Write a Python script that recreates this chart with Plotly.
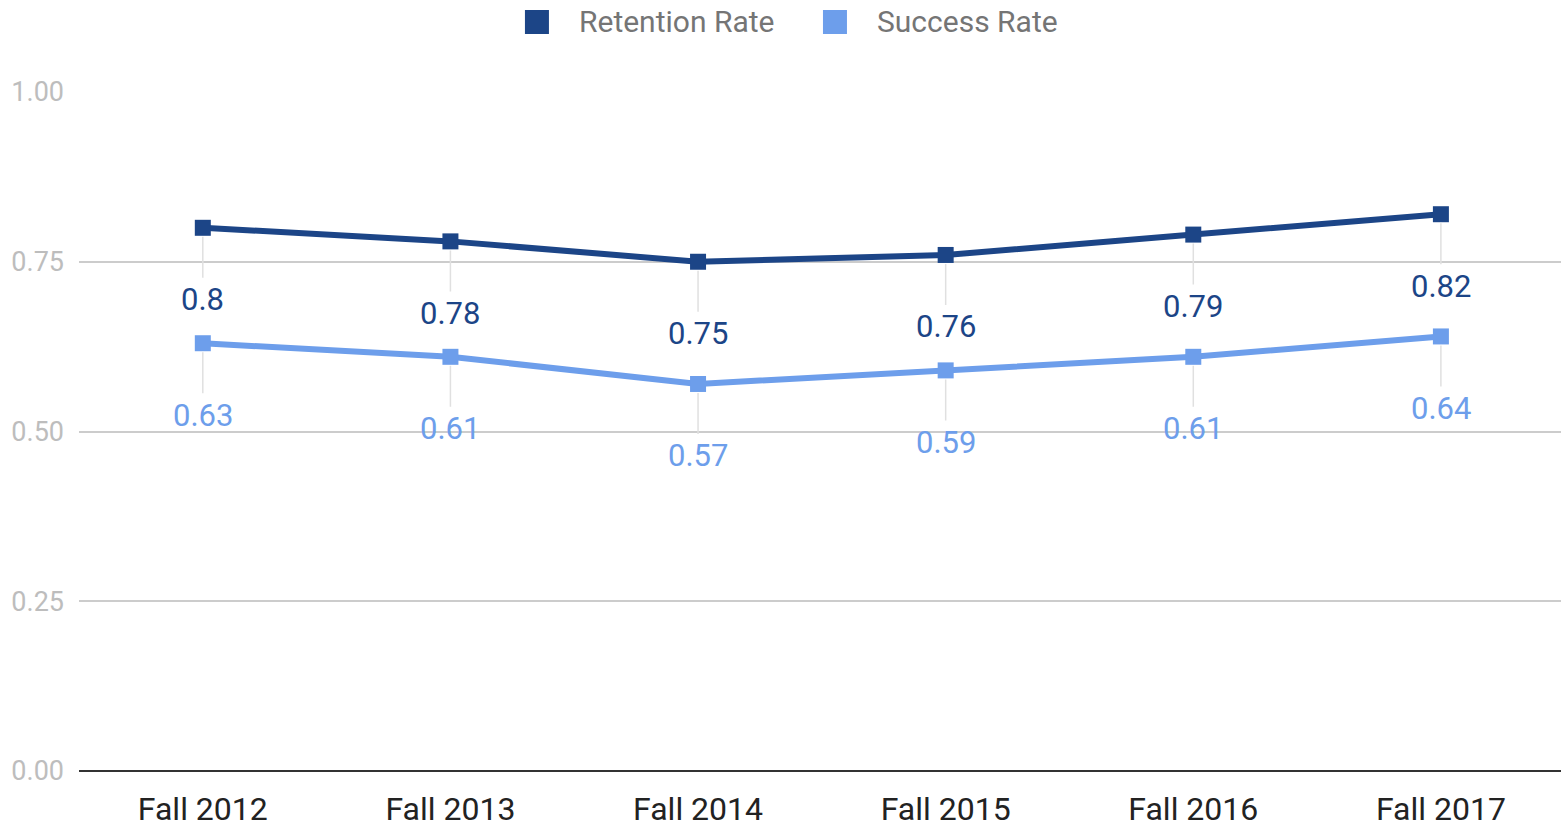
import plotly.graph_objects as go

categories = ["Fall 2012", "Fall 2013", "Fall 2014", "Fall 2015", "Fall 2016", "Fall 2017"]
retention = [0.80, 0.78, 0.75, 0.76, 0.79, 0.82]
success = [0.63, 0.61, 0.57, 0.59, 0.61, 0.64]
retention_labels = ["0.8", "0.78", "0.75", "0.76", "0.79", "0.82"]
success_labels = ["0.63", "0.61", "0.57", "0.59", "0.61", "0.64"]
y_ticks = [0, 0.25, 0.5, 0.75, 1.0]
y_tick_text = ["0.00", "0.25", "0.50", "0.75", "1.00"]

DARK = "#1c4587"
LIGHT = "#6d9eeb"
FONT = "Roboto"

fig = go.Figure()
series = [("Retention Rate", retention, retention_labels, DARK),
          ("Success Rate", success, success_labels, LIGHT)]

annotations = []
for name, vals, labels, color in series:
    fig.add_trace(go.Scatter(
        x=categories, y=vals, mode="lines+markers", name=name,
        line=dict(color=color, width=6),
        marker=dict(symbol="square", size=16, color=color),
        showlegend=False, hoverinfo="skip"))
    for c, v, t in zip(categories, vals, labels):
        annotations.append(dict(
            x=c, y=v, xref="x", yref="y", text=t,
            showarrow=True, arrowhead=0, arrowwidth=1.5, arrowcolor="#e0e0e0",
            ax=0, ay=72, standoff=9, startstandoff=2,
            font=dict(family=FONT, size=31, color=color)))

# manual legend (layout only)
legend_pos = [(0.3090, 0.3360), (0.5101, 0.5371)]
legend_y = 1.1031
shapes = []
for (name, _, _, color), (sx, tx) in zip(series, legend_pos):
    shapes.append(dict(type="rect", xref="paper", yref="paper",
                       xsizemode="pixel", ysizemode="pixel",
                       xanchor=sx, yanchor=legend_y,
                       x0=-12, x1=12, y0=-12, y1=12,
                       fillcolor=color, line=dict(width=0)))
    annotations.append(dict(x=tx, y=legend_y, xref="paper", yref="paper",
                            text=name, showarrow=False, xanchor="left",
                            yanchor="middle",
                            font=dict(family=FONT, size=30, color="#757575")))

fig.update_layout(
    width=1561, height=826,
    margin=dict(l=79, r=0, t=92, b=55),
    paper_bgcolor="white", plot_bgcolor="white",
    font=dict(family=FONT),
    showlegend=False,
    annotations=annotations,
    shapes=shapes,
    xaxis=dict(type="category", range=[-0.5, 5.485], showgrid=False,
               showline=False, zeroline=False, automargin=False,
               tickfont=dict(family=FONT, size=32, color="#222222"),
               ticklabelstandoff=16),
    yaxis=dict(range=[0, 1], tickvals=y_ticks, ticktext=y_tick_text,
               showgrid=True, gridcolor="#cccccc", gridwidth=2,
               zeroline=True, zerolinecolor="#333333", zerolinewidth=2,
               automargin=False,
               tickfont=dict(family=FONT, size=27, color="#bdbdbd"),
               ticklabelstandoff=14, showline=False),
)

fig.write_html("out.html", config={"displayModeBar": False},
               post_script="document.body.style.margin='0';")
